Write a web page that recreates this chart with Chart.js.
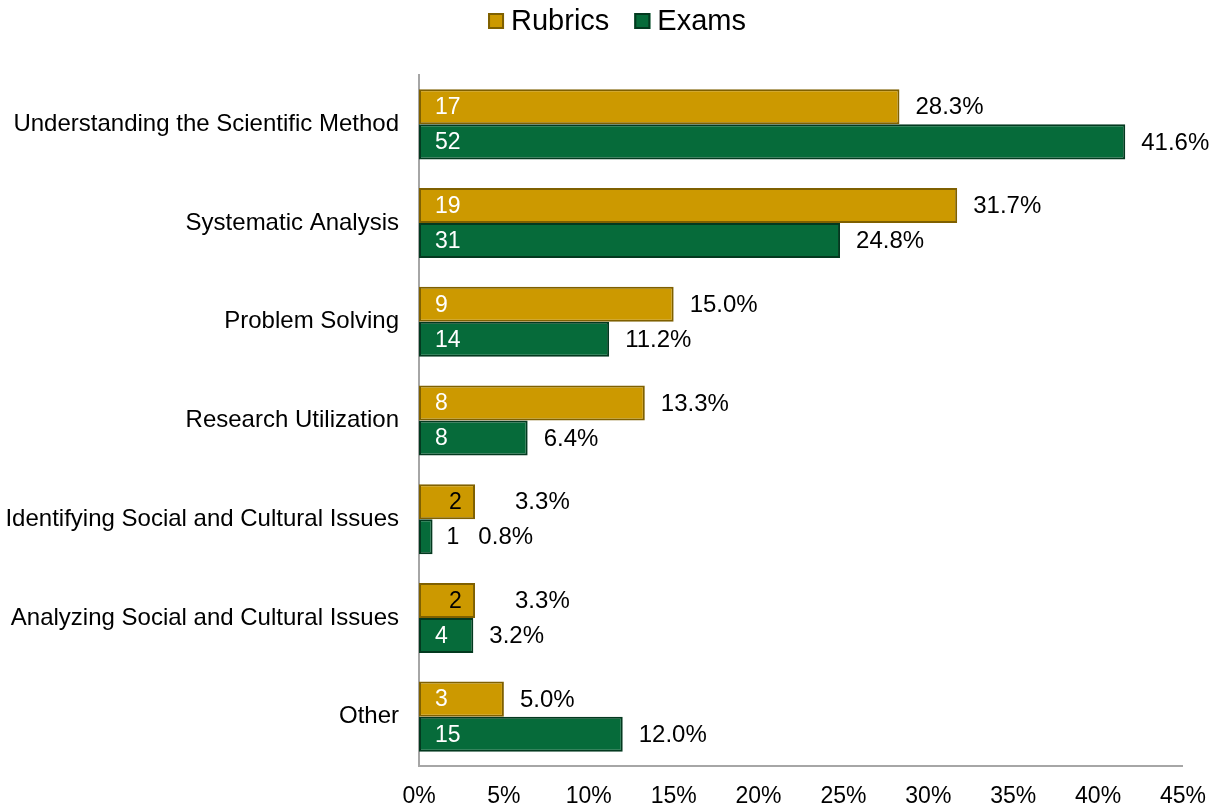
<!DOCTYPE html>
<html>
<head>
<meta charset="utf-8">
<script src="https://cdn.jsdelivr.net/npm/chart.js@4"></script>
<style>
  html, body { margin: 0; padding: 0; background: #fff; }
  #wrap { width: 1215px; height: 806px; }
</style>
</head>
<body>
<div id="wrap"><canvas id="chart" width="1215" height="806"></canvas></div>
<script>
const categories = [
  'Understanding the Scientific Method',
  'Systematic Analysis',
  'Problem Solving',
  'Research Utilization',
  'Identifying Social and Cultural Issues',
  'Analyzing Social and Cultural Issues',
  'Other',
];
const rubricsPct = [28.3, 31.7, 15.0, 13.3, 3.3, 3.3, 5.0];
const examsPct = [41.6, 24.8, 11.2, 6.4, 0.8, 3.2, 12.0];
const rubricsCount = [17, 19, 9, 8, 2, 2, 3];
const examsCount = [52, 31, 14, 8, 1, 4, 15];
const xTicks = [0, 5, 10, 15, 20, 25, 30, 35, 40, 45];

const FONT = "Arial, 'Liberation Sans', sans-serif";
const counts = [rubricsCount, examsCount];

// legend drawn by hand so the box/text spacing matches
const topLegend = {
  id: 'topLegend',
  afterDraw(chart) {
    const { ctx } = chart;
    const ds = chart.data.datasets;
    ctx.save();
    ctx.font = '29px ' + FONT;
    ctx.textBaseline = 'middle';
    ctx.textAlign = 'left';
    const box = 16;
    const gapBox = 7;
    const gapItem = 25;
    const widths = ds.map((d) => box + gapBox + ctx.measureText(d.label).width);
    const total = widths.reduce((a, b) => a + b, 0) + gapItem * (ds.length - 1);
    let x = 617 - total / 2;
    const y = 21;
    ds.forEach((d, i) => {
      ctx.fillStyle = d.backgroundColor;
      ctx.fillRect(x, y - box / 2, box, box);
      ctx.strokeStyle = d.borderColor;
      ctx.lineWidth = 2;
      ctx.strokeRect(x + 1, y - box / 2 + 1, box - 2, box - 2);
      ctx.fillStyle = '#000000';
      ctx.fillText(d.label, x + box + gapBox, y + 1);
      x += widths[i] + gapItem;
    });
    ctx.restore();
  },
};

// count label at the start of each bar, percentage after its end
const barLabels = {
  id: 'barLabels',
  afterDatasetsDraw(chart) {
    const { ctx } = chart;
    chart.data.datasets.forEach((ds, di) => {
      const meta = chart.getDatasetMeta(di);
      meta.data.forEach((bar, i) => {
        const w = bar.x - bar.base;
        const count = String(counts[di][i]);
        ctx.save();
        ctx.textBaseline = 'middle';
        ctx.textAlign = 'left';
        ctx.font = '23px ' + FONT;
        let cx;
        let color = '#ffffff';
        if (w < 30) {
          cx = bar.x + 14;
          color = '#000000';
        } else if (w < 60 && di === 0) {
          cx = bar.base + 30;
          color = '#000000';
        } else {
          cx = bar.base + 16;
        }
        ctx.fillStyle = color;
        ctx.fillText(count, cx, bar.y + 1);
        const countEnd = cx + ctx.measureText(count).width;
        ctx.font = '24px ' + FONT;
        ctx.fillStyle = '#000000';
        let px = bar.x + 16;
        if (w < 30) px = countEnd + 19;
        else if (w < 60 && di === 0) px = bar.x + 40;
        ctx.fillText(ds.data[i].toFixed(1) + '%', px, bar.y + 1);
        ctx.restore();
      });
    });
  },
};

new Chart(document.getElementById('chart'), {
  type: 'bar',
  data: {
    labels: categories,
    datasets: [
      {
        label: 'Rubrics',
        data: rubricsPct,
        backgroundColor: '#CC9900',
        borderColor: '#7F6000',
        borderWidth: 2,
        borderSkipped: false,
        categoryPercentage: 0.71,
        barPercentage: 1.0,
      },
      {
        label: 'Exams',
        data: examsPct,
        backgroundColor: '#066B3A',
        borderColor: '#03391F',
        borderWidth: 2,
        borderSkipped: false,
        categoryPercentage: 0.71,
        barPercentage: 1.0,
      },
    ],
  },
  options: {
    indexAxis: 'y',
    responsive: false,
    animation: false,
    layout: { padding: { left: 0, right: 29, top: 75, bottom: 0 } },
    plugins: {
      legend: { display: false },
      tooltip: { enabled: false },
    },
    scales: {
      x: {
        min: 0,
        max: 45,
        afterBuildTicks(scale) {
          scale.ticks = xTicks.map((v) => ({ value: v }));
        },
        afterFit(scale) {
          scale.height = 40;
        },
        grid: { display: false },
        border: { display: true, color: '#A6A6A6', width: 2 },
        ticks: {
          padding: 9,
          color: '#000000',
          font: { family: FONT, size: 23 },
          callback: (v) => v + '%',
          maxRotation: 0,
        },
      },
      y: {
        afterFit(scale) {
          scale.width = 419;
        },
        grid: { display: false },
        border: { display: true, color: '#A6A6A6', width: 2 },
        ticks: {
          padding: 12,
          color: '#000000',
          font: { family: FONT, size: 24 },
        },
      },
    },
  },
  plugins: [barLabels, topLegend],
});
</script>
</body>
</html>
